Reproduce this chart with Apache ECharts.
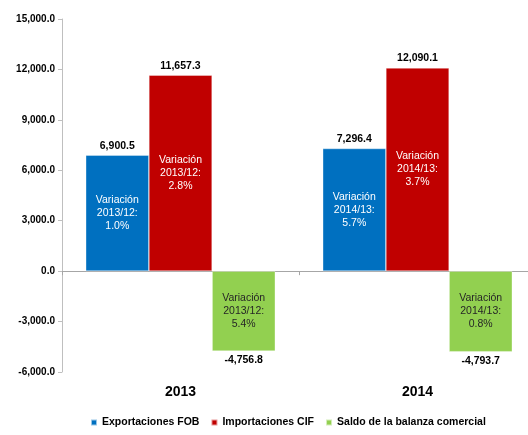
<!DOCTYPE html>
<html><head><meta charset="utf-8">
<script src="https://cdn.jsdelivr.net/npm/echarts@6/dist/echarts.min.js"></script>
<style>html,body{margin:0;padding:0;background:#fff}#c{width:528px;height:435px}</style>
</head><body><div id="c"></div>
<script>
const categories = ['2013', '2014'];
const seriesNames = ['Exportaciones FOB', 'Importaciones CIF', 'Saldo de la balanza comercial'];
const exportaciones = [6900.5, 7296.4];
const importaciones = [11657.3, 12090.1];
const saldo = [-4756.8, -4793.7];
const varExport = ['2013/12:\n1.0%', '2014/13:\n5.7%'];
const varImport = ['2013/12:\n2.8%', '2014/13:\n3.7%'];
const varSaldo = ['2013/12:\n5.4%', '2014/13:\n0.8%'];
const colors = ['#0070C0', '#C00000', '#92D050'];
const insideTextColors = ['#ffffff', '#ffffff', '#262626'];

const fmt = v => Number(v).toLocaleString('en-US', {minimumFractionDigits: 1, maximumFractionDigits: 1});
const FONT = '"Liberation Sans", Arial, sans-serif';

const values = [exportaciones, importaciones, saldo];
const vars = [varExport, varImport, varSaldo];

const series = [];
values.forEach((arr, i) => {
  series.push({
    name: seriesNames[i], type: 'bar', xAxisIndex: 0,
    barGap: '0%', barCategoryGap: '20%',
    itemStyle: {color: colors[i], borderColor: 'rgba(255,255,255,0.6)', borderWidth: 0.6},
    label: {
      show: true, position: 'inside', color: insideTextColors[i], fontFamily: FONT, fontSize: 10.5, lineHeight: 13,
      formatter: p => 'Variación\n' + vars[i][p.dataIndex]
    },
    data: arr
  });
});
values.forEach((arr, i) => {
  series.push({
    name: 'v' + i, type: 'bar', xAxisIndex: 1,
    barGap: '0%', barCategoryGap: '20%',
    itemStyle: {color: 'rgba(0,0,0,0)'},
    label: {
      show: true, color: '#000', fontFamily: FONT, fontSize: 10.5, fontWeight: 'bold',
      position: 'top', distance: 4,
      formatter: p => fmt(p.value)
    },
    data: arr.map(v => ({value: v, label: {position: v < 0 ? 'bottom' : 'top'}})),
    silent: true
  });
});

const chart = echarts.init(document.getElementById('c'), null, {renderer: 'canvas'});
chart.setOption({
  animation: false,
  backgroundColor: '#fff',
  grid: {left: 62, width: 474, top: 19, bottom: 63, containLabel: false, outerBoundsMode: 'none'},
  legend: {
    data: seriesNames, bottom: 2, left: 85, icon: 'rect', itemWidth: 6, itemHeight: 6, itemGap: 11,
    textStyle: {fontFamily: FONT, fontSize: 10.5, fontWeight: 'bold', color: '#000'}
  },
  xAxis: [
    {type: 'category', data: categories, position: 'bottom',
     axisLine: {show: false, onZero: false}, axisTick: {show: false},
     axisLabel: {fontFamily: FONT, fontSize: 14, fontWeight: 'bold', color: '#000', margin: 13}},
    {type: 'category', data: categories, position: 'bottom',
     axisLine: {show: true, onZero: true, lineStyle: {color: '#a6a6a6', width: 1}},
     axisTick: {show: true, length: 4, lineStyle: {color: '#a6a6a6'}},
     axisLabel: {show: false}}
  ],
  yAxis: {
    type: 'value', min: -6000, max: 15000, interval: 3000,
    axisLine: {show: true, lineStyle: {color: '#bfbfbf'}},
    axisTick: {show: true, length: 4, lineStyle: {color: '#bfbfbf'}},
    splitLine: {show: false},
    axisLabel: {fontFamily: FONT, fontSize: 10, fontWeight: 'bold', color: '#000', margin: 7, formatter: v => fmt(v)}
  },
  series: series
});
</script></body></html>
